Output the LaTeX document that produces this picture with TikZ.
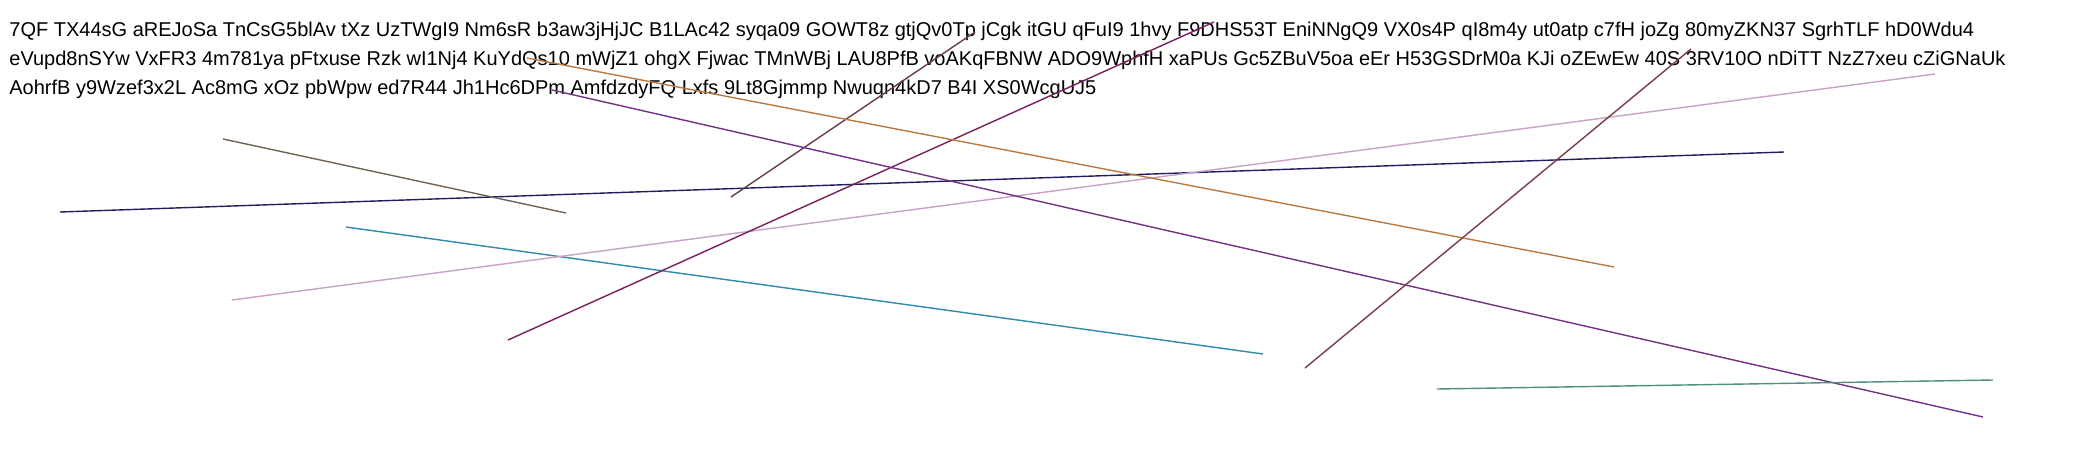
\documentclass[tikz,border=0pt]{standalone}
\usepackage{fontspec}
\setmainfont{Liberation Sans}
\usepackage{tikz}

\definecolor{navyln}{HTML}{1F1F5F}
\definecolor{oliveln}{HTML}{6E6450}
\definecolor{tealln}{HTML}{2E8BAA}
\definecolor{thistleln}{HTML}{C8A0C8}
\definecolor{magentaln}{HTML}{7A1F5C}
\definecolor{mauveln}{HTML}{683E48}
\definecolor{orangeln}{HTML}{B87A40}
\definecolor{purpleln}{HTML}{743084}
\definecolor{maroonln}{HTML}{7F3A44}
\definecolor{greenln}{HTML}{4F8F80}

\begin{document}
\begin{tikzpicture}[x=0.5pt, y=-0.5pt]
\tikzset{
	textline/.style={anchor=base west,
		inner sep=0pt,
		font=\fontsize{10pt}{12pt}\selectfont
	},
	thinline/.style={line width=0.7pt}
}

\useasboundingbox (0,0) rectangle (2078,450);

\node[textline] (TXTA) at (9,36) {7QF TX44sG aREJoSa TnCsG5blAv tXz UzTWgI9 Nm6sR b3aw3jHjJC B1LAc42 syqa09 GOWT8z gtjQv0Tp jCgk itGU qFuI9 1hvy F9DHS53T EniNNgQ9 VX0s4P qI8m4y ut0atp c7fH joZg 80myZKN37 SgrhTLF hD0Wdu4};
\node[textline] (TXTB) at (9,65) {eVupd8nSYw VxFR3 4m781ya pFtxuse Rzk wI1Nj4 KuYdQs10 mWjZ1 ohgX Fjwac TMnWBj LAU8PfB voAKqFBNW ADO9WphfH xaPUs Gc5ZBuV5oa eEr H53GSDrM0a KJi oZEwEw 40S 3RV10O nDiTT NzZ7xeu cZiGNaUk};
\node[textline] (TXTC) at (9,94) {AohrfB y9Wzef3x2L Ac8mG xOz pbWpw ed7R44 Jh1Hc6DPm AmfdzdyFQ Lxfs 9Lt8Gjmmp Nwuqn4kD7 B4I XS0WcgUJ5};

\draw[thinline, navyln] (60,212) -- (1784,152);
\draw[thinline, oliveln] (223,139) -- (566,213);
\draw[thinline, tealln] (346,227) -- (1263,354);
\draw[thinline, thistleln] (232,300) -- (1935,74);
\draw[thinline, magentaln] (508,340) -- (1214,22);
\draw[thinline, mauveln] (731,197) -- (975,32);
\draw[thinline, orangeln] (527,58) -- (1614,267);
\draw[thinline, purpleln] (552,90) -- (1983,417);
\draw[thinline, maroonln] (1305,368) -- (1691,49);
\draw[thinline, greenln] (1437,389) -- (1993,380);
\end{tikzpicture}
\end{document}
